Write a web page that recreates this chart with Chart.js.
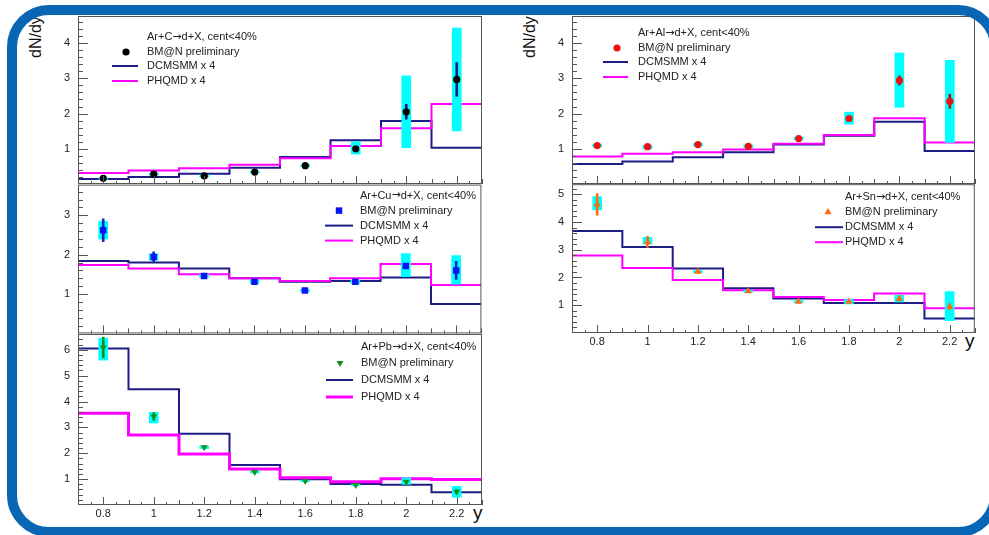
<!DOCTYPE html>
<html>
<head>
<meta charset="utf-8">
<script src="https://cdn.jsdelivr.net/npm/chart.js@4.4.1/dist/chart.umd.min.js"></script>
<style>
  html, body { margin: 0; padding: 0; background: #fff; }
  #page { position: relative; width: 989px; height: 535px; overflow: hidden; background: #fff;
          font-family: "Liberation Sans", Arial, sans-serif; }
  #page canvas { position: absolute; }
  #frame { position: absolute; left: 7px; top: 5px; width: 993px; height: 532px; box-sizing: border-box;
           border: 10px solid #0866b4; border-radius: 42px; pointer-events: none; z-index: 5; }
  .ylab { position: absolute; font-size: 16px; color: #111; transform-origin: left top;
          transform: rotate(-90deg); white-space: nowrap; line-height: 18px; }
  .xlab { position: absolute; font-size: 19px; color: #111; line-height: 22px; }
</style>
</head>
<body>
<div id="page">
  <div class="ylab" style="left:27px; top:58px;">dN/dy</div>
  <div class="ylab" style="left:521px; top:58px;">dN/dy</div>
  <div class="xlab" style="left:473px; top:502px;">y</div>
  <div class="xlab" style="left:965px; top:330px;">y</div>
  <div id="frame"></div>
</div>
<script>
// rapidity bins (bin centres, bin edges, axis labels)
const rapidity = [0.8, 1.0, 1.2, 1.4, 1.6, 1.8, 2.0, 2.2];
const binEdges = [0.7, 0.9, 1.1, 1.3, 1.5, 1.7, 1.9, 2.1, 2.3];
const xTickLabels = [0.8, 1, 1.2, 1.4, 1.6, 1.8, 2, 2.2];
const dataName = 'BM@N preliminary';
const modelNames = ['DCMSMM x 4', 'PHQMD x 4'];

// Ar+C
const arC_title = 'Ar+C\u2192d+X, cent<40%';
const arC_yTicks = [1, 2, 3, 4];
const arC_bmn   = [0.16, 0.28, 0.23, 0.34, 0.52, 1.00, 2.05, 2.97];
const arC_stat  = [0.04, 0.04, 0.04, 0.04, 0.04, 0.05, 0.21, 0.48];
const arC_sysLo = [0.13, 0.25, 0.20, 0.31, 0.49, 0.85, 1.03, 1.51];
const arC_sysHi = [0.19, 0.31, 0.26, 0.37, 0.55, 1.20, 3.07, 4.43];
const arC_dcmsmm = [0.14, 0.20, 0.29, 0.46, 0.77, 1.24, 1.79, 1.03];
const arC_phqmd  = [0.31, 0.38, 0.45, 0.55, 0.73, 1.08, 1.58, 2.27];

// Ar+Cu
const arCu_title = 'Ar+Cu\u2192d+X, cent<40%';
const arCu_yTicks = [1, 2, 3];
const arCu_bmn   = [2.62, 1.94, 1.46, 1.31, 1.09, 1.31, 1.71, 1.60];
const arCu_stat  = [0.29, 0.13, 0.04, 0.04, 0.04, 0.04, 0.06, 0.23];
const arCu_sysLo = [2.40, 1.86, 1.42, 1.27, 1.06, 1.27, 1.44, 1.25];
const arCu_sysHi = [2.85, 2.02, 1.50, 1.35, 1.12, 1.35, 2.03, 1.98];
const arCu_dcmsmm = [1.84, 1.80, 1.65, 1.40, 1.31, 1.33, 1.42, 0.75];
const arCu_phqmd  = [1.74, 1.65, 1.50, 1.40, 1.33, 1.40, 1.76, 1.23];

// Ar+Pb
const arPb_title = 'Ar+Pb\u2192d+X, cent<40%';
const arPb_yTicks = [1, 2, 3, 4, 5, 6];
const arPb_bmn   = [6.09, 3.42, 2.23, 1.28, 0.93, 0.77, 0.90, 0.51];
const arPb_stat  = [0.40, 0.15, 0.05, 0.05, 0.04, 0.04, 0.05, 0.08];
const arPb_sysLo = [5.60, 3.17, 2.18, 1.24, 0.90, 0.74, 0.80, 0.30];
const arPb_sysHi = [6.45, 3.58, 2.28, 1.32, 0.96, 0.80, 1.05, 0.72];
const arPb_dcmsmm = [6.05, 4.47, 2.75, 1.55, 1.00, 0.81, 0.78, 0.49];
const arPb_phqmd  = [3.55, 2.71, 1.97, 1.39, 1.05, 0.90, 1.01, 0.99];

// Ar+Al
const arAl_title = 'Ar+Al\u2192d+X, cent<40%';
const arAl_yTicks = [1, 2, 3, 4];
const arAl_bmn   = [1.09, 1.06, 1.12, 1.07, 1.29, 1.86, 2.94, 2.35];
const arAl_stat  = [0.04, 0.04, 0.04, 0.04, 0.04, 0.05, 0.13, 0.20];
const arAl_sysLo = [1.05, 1.00, 1.08, 1.03, 1.25, 1.70, 2.18, 1.18];
const arAl_sysHi = [1.13, 1.10, 1.16, 1.11, 1.33, 2.04, 3.72, 3.51];
const arAl_dcmsmm = [0.57, 0.64, 0.76, 0.90, 1.12, 1.37, 1.77, 0.94];
const arAl_phqmd  = [0.78, 0.86, 0.90, 0.98, 1.14, 1.39, 1.87, 1.18];

// Ar+Sn
const arSn_title = 'Ar+Sn\u2192d+X, cent<40%';
const arSn_yTicks = [1, 2, 3, 4, 5];
const arSn_bmn   = [4.63, 3.28, 2.21, 1.51, 1.13, 1.13, 1.24, 0.95];
const arSn_stat  = [0.39, 0.20, 0.05, 0.05, 0.05, 0.05, 0.08, 0.10];
const arSn_sysLo = [4.43, 3.20, 2.17, 1.47, 1.09, 1.05, 1.12, 0.44];
const arSn_sysHi = [4.91, 3.45, 2.25, 1.55, 1.17, 1.20, 1.36, 1.49];
const arSn_dcmsmm = [3.67, 3.10, 2.32, 1.61, 1.24, 1.08, 1.08, 0.52];
const arSn_phqmd  = [2.79, 2.34, 1.91, 1.54, 1.30, 1.19, 1.42, 0.89];

const NAVY = '#1c1c84';
const MAGENTA = '#ff00ff';
const CYAN = '#00ffff';
const FONT = '"Liberation Sans", Arial, sans-serif';

// panels: plot area in page pixels + styles
const panels = [
  { box: {l: 78, t: 16, w: 404, h: 168}, yMax: 4.77, xLabels: false,
    title: arC_title, yTicks: arC_yTicks, bmn: arC_bmn, stat: arC_stat, sysLo: arC_sysLo, sysHi: arC_sysHi,
    dcm: arC_dcmsmm, phq: arC_phqmd, marker: {style: 'circle', r: 3.6, rot: 0, color: '#000'},
    statColor: NAVY, phqWidth: 2, legend: {textX: 69, lineX0: 34, lineX1: 60, markerX: 48, rows: [21, 36, 50, 65]} },
  { box: {l: 78, t: 184, w: 404, h: 150}, yMax: 3.78, xLabels: false,
    title: arCu_title, yTicks: arCu_yTicks, bmn: arCu_bmn, stat: arCu_stat, sysLo: arCu_sysLo, sysHi: arCu_sysHi,
    dcm: arCu_dcmsmm, phq: arCu_phqmd, marker: {style: 'rect', r: 4.6, rot: 0, color: '#0a14f0'},
    statColor: '#1428c8', phqWidth: 2, legend: {textX: 282, lineX0: 247, lineX1: 275, markerX: 261, rows: [11, 26, 41, 56]} },
  { box: {l: 78, t: 334, w: 404, h: 171}, yMax: 6.61, xLabels: true,
    title: arPb_title, yTicks: arPb_yTicks, bmn: arPb_bmn, stat: arPb_stat, sysLo: arPb_sysLo, sysHi: arPb_sysHi,
    dcm: arPb_dcmsmm, phq: arPb_phqmd, marker: {style: 'triangle', r: 4, rot: 180, color: '#13901c'},
    statColor: '#13901c', phqWidth: 3, legend: {textX: 283, lineX0: 248, lineX1: 275, markerX: 262, rows: [13, 29, 46, 63]} },
  { box: {l: 572, t: 16, w: 403, h: 168}, yMax: 4.77, xLabels: false,
    title: arAl_title, yTicks: arAl_yTicks, bmn: arAl_bmn, stat: arAl_stat, sysLo: arAl_sysLo, sysHi: arAl_sysHi,
    dcm: arAl_dcmsmm, phq: arAl_phqmd, marker: {style: 'circle', r: 3.6, rot: 0, color: '#f01010'},
    statColor: '#b01818', phqWidth: 2, legend: {textX: 66, lineX0: 31, lineX1: 56, markerX: 45, rows: [17, 32, 46, 61]} },
  { box: {l: 572, t: 184, w: 403, h: 149}, yMax: 5.36, xLabels: true,
    title: arSn_title, yTicks: arSn_yTicks, bmn: arSn_bmn, stat: arSn_stat, sysLo: arSn_sysLo, sysHi: arSn_sysHi,
    dcm: arSn_dcmsmm, phq: arSn_phqmd, marker: {style: 'triangle', r: 4.2, rot: 0, color: '#ff6a10'},
    statColor: '#ff6a10', phqWidth: 2, legend: {textX: 273, lineX0: 243, lineX1: 271, markerX: 256, rows: [13, 28, 43, 58]} }
];

// histogram as step line over bin edges
function histo(vals) {
  return binEdges.map((x, i) => ({x: x, y: vals[Math.min(i, vals.length - 1)]}));
}

function drawMarker(ctx, m, x, y) {
  ctx.fillStyle = m.color;
  if (Chart.helpers && Chart.helpers.drawPoint) {
    Chart.helpers.drawPoint(ctx, {pointStyle: m.style, rotation: m.rot, radius: m.r, borderWidth: 0}, x, y);
  }
}

// title: the arrow is taken from DejaVu Sans, the rest from Liberation Sans
function drawTitle(ctx, text, x, y) {
  const parts = text.split('\u2192');
  ctx.font = '11px ' + FONT;
  ctx.fillText(parts[0], x, y);
  x += ctx.measureText(parts[0]).width;
  ctx.font = '11px "DejaVu Sans"';
  ctx.fillText('\u2192', x, y);
  x += ctx.measureText('\u2192').width;
  ctx.font = '11px ' + FONT;
  ctx.fillText(parts[1], x, y);
}

// ROOT style frame, inward ticks and legend box
const rootFrame = {
  id: 'rootFrame',
  afterDraw(chart, args, o) {
    const ctx = chart.ctx;
    const {left, right, top, bottom} = chart.chartArea;
    const xs = chart.scales.x, ys = chart.scales.y;
    ctx.save();
    ctx.strokeStyle = '#555';
    ctx.lineWidth = 1;
    ctx.strokeRect(left + 0.5, top + 0.5, right - left - 1, bottom - top - 1);
    ctx.beginPath();
    for (let k = 14; k <= 46; k++) {
      const px = Math.round(xs.getPixelForValue(k * 0.05)) + 0.5;
      const len = k % 4 === 0 ? 8 : (k % 2 === 0 ? 5 : 3);
      ctx.moveTo(px, bottom);
      ctx.lineTo(px, bottom - len);
    }
    for (let k = 1; k * 0.2 < o.yMax; k++) {
      const py = Math.round(ys.getPixelForValue(k * 0.2)) + 0.5;
      const len = k % 5 === 0 ? 10 : 5;
      ctx.moveTo(left, py);
      ctx.lineTo(left + len, py);
    }
    ctx.stroke();

    // legend
    const L = o.legend;
    ctx.fillStyle = '#222';
    ctx.textBaseline = 'middle';
    ctx.textAlign = 'left';
    drawTitle(ctx, o.title, left + L.textX, top + L.rows[0]);
    ctx.font = '11px ' + FONT;
    ctx.fillText(dataName, left + L.textX, top + L.rows[1]);
    ctx.fillText(modelNames[0], left + L.textX, top + L.rows[2]);
    ctx.fillText(modelNames[1], left + L.textX, top + L.rows[3]);
    drawMarker(ctx, o.marker, left + L.markerX, top + L.rows[1]);
    [[NAVY, 2], [MAGENTA, o.phqWidth]].forEach(([c, w], j) => {
      ctx.strokeStyle = c;
      ctx.lineWidth = w;
      ctx.beginPath();
      const yy = top + L.rows[2 + j];
      ctx.moveTo(left + L.lineX0, yy);
      ctx.lineTo(left + L.lineX1, yy);
      ctx.stroke();
    });
    ctx.restore();
  }
};

const page = document.getElementById('page');
const frame = document.getElementById('frame');

panels.forEach(p => {
  const yW = 50, pad = 4, xH = p.xLabels ? 24 : 4;
  const cv = document.createElement('canvas');
  cv.width = p.box.w + yW + pad;
  cv.height = p.box.h + pad + xH;
  cv.style.left = (p.box.l - yW) + 'px';
  cv.style.top = (p.box.t - pad) + 'px';
  page.insertBefore(cv, frame);

  const pts = rapidity.map((x, i) => ({x: x, y: p.bmn[i]}));
  new Chart(cv, {
    type: 'scatter',
    data: {
      datasets: [
        { type: 'line', label: modelNames[0], data: histo(p.dcm), stepped: true, borderColor: NAVY,
          borderWidth: 2, pointRadius: 0, fill: false, order: 4 },
        { type: 'line', label: modelNames[1], data: histo(p.phq), stepped: true, borderColor: MAGENTA,
          borderWidth: p.phqWidth, pointRadius: 0, fill: false, order: 3 },
        { type: 'bar', label: 'sys', data: rapidity.map((x, i) => ({x: x, y: [p.sysLo[i], p.sysHi[i]]})),
          backgroundColor: CYAN, barThickness: 9, grouped: false, order: 2 },
        { type: 'bar', label: 'stat', data: rapidity.map((x, i) => ({x: x, y: [p.bmn[i] - p.stat[i], p.bmn[i] + p.stat[i]]})),
          backgroundColor: p.statColor, barThickness: 2, grouped: false, order: 1 },
        { type: 'scatter', label: dataName, data: pts, pointStyle: p.marker.style, pointRadius: p.marker.r,
          rotation: p.marker.rot, backgroundColor: p.marker.color, borderWidth: 0, pointHoverRadius: p.marker.r, order: 0 }
      ]
    },
    options: {
      responsive: false,
      animation: false,
      devicePixelRatio: 1,
      layout: { padding: {left: 0, top: pad, right: pad, bottom: 0} },
      plugins: {
        legend: { display: false },
        tooltip: { enabled: false },
        rootFrame: { yMax: p.yMax, title: p.title, legend: p.legend, marker: p.marker, phqWidth: p.phqWidth }
      },
      scales: {
        x: {
          type: 'linear', min: 0.7, max: 2.3, offset: false,
          grid: { display: false, drawTicks: false }, border: { display: false },
          ticks: { display: p.xLabels, autoSkip: false, maxRotation: 0, padding: 2, color: '#222',
                   font: { family: FONT, size: 11 }, callback: v => String(Math.round(v * 10) / 10) },
          afterBuildTicks: s => { s.ticks = xTickLabels.map(v => ({value: v})); },
          afterFit: s => { s.height = xH; s.paddingLeft = 0; s.paddingRight = 0; }
        },
        y: {
          type: 'linear', min: 0, max: p.yMax,
          grid: { display: false, drawTicks: false }, border: { display: false },
          ticks: { padding: 8, color: '#222', font: { family: FONT, size: 11 },
                   callback: v => String(Math.round(v)) },
          afterBuildTicks: s => { s.ticks = p.yTicks.map(v => ({value: v})); },
          afterFit: s => { s.width = yW; s.paddingTop = 0; s.paddingBottom = 0; }
        }
      }
    },
    plugins: [rootFrame]
  });
});
</script>
</body>
</html>
